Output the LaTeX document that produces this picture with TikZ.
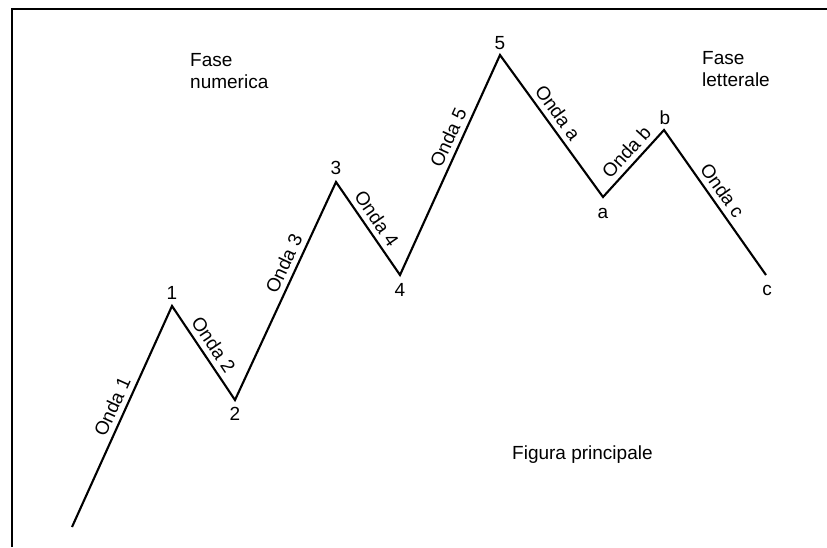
\documentclass[tikz,border=0pt]{standalone}
\usepackage{fontspec}
\setmainfont{Liberation Sans}
\begin{document}
\begin{tikzpicture}[x=1pt,y=-1pt,
  wave/.style={line width=2.1pt, line join=miter},
  frameline/.style={line width=1.6pt},
  lab/.style={font=\fontsize{19}{22}\selectfont, inner sep=0pt},
  onda/.style={font=\fontsize{19}{22}\selectfont, sloped, above=3pt, inner sep=2pt},
  phase/.style={font=\fontsize{19}{22}\selectfont, align=left, anchor=north west, inner sep=0pt}]
\useasboundingbox (0,0) rectangle (827,547);
% frame
\coordinate (fbl) at (12,547);
\coordinate (ftl) at (12,9);
\coordinate (ftr) at (827,9);
\draw[frameline] (fbl) -- (ftl) -- (ftr);
% wave vertices
\coordinate (p0) at (72,527);
\coordinate (p1) at (172,306);
\coordinate (p2) at (235,400);
\coordinate (p3) at (336,182);
\coordinate (p4) at (400,275);
\coordinate (p5) at (500,55);
\coordinate (pa) at (603,197);
\coordinate (pb) at (664,130);
\coordinate (pc) at (766,275);
\draw[wave] (p0) -- node[onda, pos=0.52] {Onda 1}
  (p1) -- node[onda, pos=0.49] {Onda 2}
  (p2) -- node[onda, pos=0.6] {Onda 3}
  (p3) -- node[onda, pos=0.47] {Onda 4}
  (p4) -- node[onda, pos=0.6] {Onda 5}
  (p5) -- node[onda, pos=0.46] {Onda a}
  (pa) -- node[onda, pos=0.54] {Onda b}
  (pb) -- node[onda, pos=0.47] {Onda c}
  (pc);
% vertex labels
\node[lab] (l1) at (172,293) {1};
\node[lab] (l2) at (235,414) {2};
\node[lab] (l3) at (336,168) {3};
\node[lab] (l4) at (400,290) {4};
\node[lab] (l5) at (500,43) {5};
\node[lab] (la) at (603,213) {a};
\node[lab] (lb) at (665,118) {b};
\node[lab] (lc) at (767,290) {c};
% phase texts
\node[phase] (fn) at (190,53) {Fase\\numerica};
\node[phase] (fl) at (702,51) {Fase\\letterale};
\node[lab, anchor=west] (fp) at (512,455) {Figura principale};
\end{tikzpicture}
\end{document}
